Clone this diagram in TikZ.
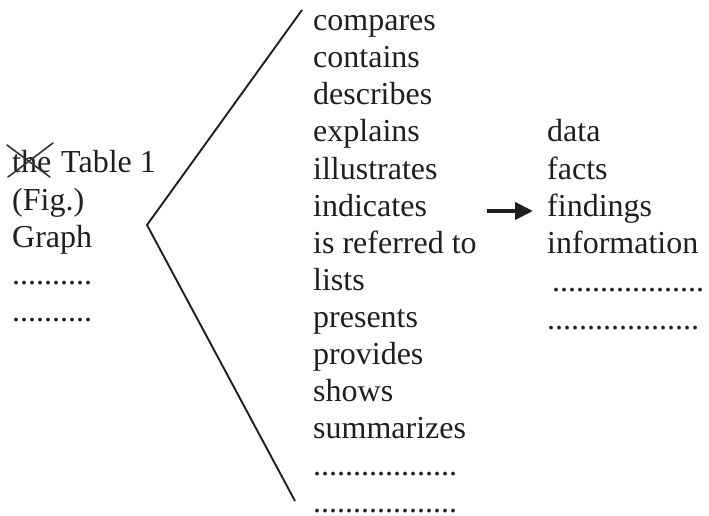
\documentclass[tikz,border=0pt]{standalone}
\usepackage{fontspec}
\setmainfont{Liberation Serif}
\usetikzlibrary{arrows.meta}
\newcommand\mydotsmid{..................}
\begin{document}
\begin{tikzpicture}[x=1pt,y=-1pt,
  word/.style={anchor=base west,inner sep=0pt,text depth=0pt,font=\fontsize{32}{37}\selectfont,text=black!88},
  stroke/.style={line width=1.9pt,black!88},
  cross/.style={line width=1.6pt,black!80,line cap=round}]
\useasboundingbox (0,0) rectangle (709,516);
% left column
\node[word] (the) at (12,172) {the};
\node[word] (table) at (61,172) {Table 1};
\node[word] (fig) at (12,210) {(Fig.)};
\node[word] (graph) at (12,247) {Graph};
\node[word] (ldotsA) at (12,284) {..........};
\node[word] (ldotsB) at (12,321) {..........};
\coordinate (crA) at (8,177); \coordinate (crB) at (53,143);
\coordinate (crC) at (7,145); \coordinate (crD) at (50,177);
\draw[cross] (crA) -- (crB);
\draw[cross] (crC) -- (crD);
% bracket
\coordinate (top) at (302,10);
\coordinate (vertex) at (147,225);
\coordinate (bottom) at (295,501);
\draw[stroke,line join=miter] (top) -- (vertex) -- (bottom);
% middle column
\foreach \w [count=\i from 0] in {compares,contains,describes,explains,illustrates,indicates,is referred to,lists,presents,provides,shows,summarizes,\mydotsmid,\mydotsmid}{
  \node[word] (m\i) at (313,31+37.0*\i) {\w};
}
% arrow
\coordinate (arrS) at (487,211);
\coordinate (arrE) at (533,211);
\draw[line width=4pt,black!88,-{Triangle[length=18pt,width=17pt]}] (arrS) -- (arrE);
% right column
\node[word] (data) at (547,142) {data};
\node[word] (facts) at (547,179) {facts};
\node[word] (findings) at (547,216) {findings};
\node[word] (information) at (547,253) {information};
\node[word] (rdotsA) at (552,291) {...................};
\node[word] (rdotsB) at (547,329) {...................};
\end{tikzpicture}
\end{document}
